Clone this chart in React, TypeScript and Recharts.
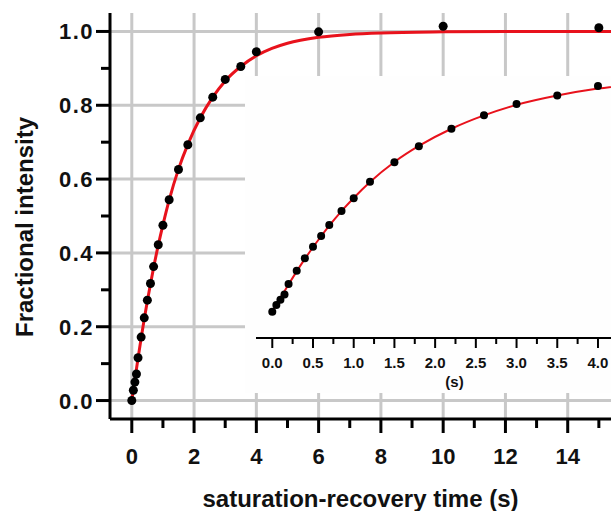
import { ComposedChart, Scatter, Line, XAxis, YAxis, CartesianGrid, Label } from "recharts";

// measured saturation-recovery points (s, fractional intensity)
const times = [0, 0.05, 0.1, 0.15, 0.2, 0.3, 0.4, 0.5, 0.6, 0.7, 0.85, 1.0, 1.2, 1.5, 1.8, 2.2, 2.6, 3.0, 3.5, 4.0, 6, 10, 15];
const intensity = [0, 0.028, 0.05, 0.072, 0.116, 0.172, 0.224, 0.272, 0.317, 0.363, 0.422, 0.475, 0.544, 0.626, 0.693, 0.766, 0.822, 0.87, 0.905, 0.945, 0.999, 1.014, 1.01];

// fitted curve
const fitTimes = [0, 0.1, 0.2, 0.3, 0.4, 0.5, 0.6, 0.7, 0.85, 1.0, 1.2, 1.5, 1.8, 2.2, 2.6, 3.0, 3.5, 4.0, 4.5, 5, 6, 7, 8, 10, 12, 15.5];
const fitValues = [0, 0.058, 0.114, 0.169, 0.221, 0.27, 0.316, 0.36, 0.421, 0.476, 0.543, 0.627, 0.694, 0.766, 0.822, 0.866, 0.905, 0.934, 0.954, 0.968, 0.984, 0.992, 0.996, 0.999, 1.0, 1.0];

const mainXTicks = [0, 1, 2, 3, 4, 5, 6, 7, 8, 9, 10, 11, 12, 13, 14, 15];
const mainYTicks = [0, 0.1, 0.2, 0.3, 0.4, 0.5, 0.6, 0.7, 0.8, 0.9, 1.0];
const gridX = [0, 2, 4, 6, 8, 10, 12, 14];
const gridY = [0, 0.2, 0.4, 0.6, 0.8, 1.0];
const insetTicks = [0, 0.25, 0.5, 0.75, 1, 1.25, 1.5, 1.75, 2, 2.25, 2.5, 2.75, 3, 3.25, 3.5, 3.75, 4];

const FONT = "'Liberation Sans', Arial, sans-serif";
const RED = "#e8121c";

const points = times.map((t, i) => ({ t, v: intensity[i] }));
const fit = fitTimes.map((t, i) => ({ t, v: fitValues[i] }));
const insetPoints = points.filter((p) => p.t <= 4);
const insetFit = fit.filter((p) => p.t <= 4.5);

function MainXTick({ x, y, payload }: any) {
  const major = payload.value % 2 === 0;
  return (
    <g>
      <line x1={x} x2={x} y1={y} y2={y + (major ? 14 : 9)} stroke="#000" strokeWidth={3} />
      {major && (
        <text x={x} y={y + 45} textAnchor="middle" fontSize={22} fontWeight="bold" fontFamily={FONT} fill="#111">
          {payload.value}
        </text>
      )}
    </g>
  );
}

function MainYTick({ x, y, payload }: any) {
  const major = Math.round(payload.value * 10) % 2 === 0;
  return (
    <g>
      <line x1={x - (major ? 14 : 9)} x2={x} y1={y} y2={y} stroke="#000" strokeWidth={3} />
      {major && (
        <text
          x={x - 16}
          y={y + 8}
          textAnchor="end"
          fontSize={22}
          fontWeight="bold"
          fontFamily={FONT}
          letterSpacing={1.5}
          fill="#111"
        >
          {payload.value.toFixed(1)}
        </text>
      )}
    </g>
  );
}

function InsetXTick({ x, y, payload }: any) {
  const major = Math.abs(payload.value * 2 - Math.round(payload.value * 2)) < 1e-6;
  return (
    <g>
      <line x1={x} x2={x} y1={y} y2={y + (major ? 10 : 6)} stroke="#000" strokeWidth={2} />
      {major && (
        <text x={x} y={y + 30} textAnchor="middle" fontSize={15} fontWeight="bold" fontFamily={FONT} fill="#111">
          {payload.value.toFixed(1)}
        </text>
      )}
    </g>
  );
}

const dot = (r: number) => (props: any) => <circle cx={props.cx} cy={props.cy} r={r} fill="#000" />;

export default function App() {
  return (
    <div style={{ position: "absolute", left: 0, top: 0, width: 611, height: 511, background: "#fff", overflow: "hidden" }}>
      <ComposedChart width={611} height={511} margin={{ top: 13, right: 0, bottom: 0, left: 0 }}>
        <CartesianGrid stroke="#c8c8c8" strokeWidth={3} horizontalValues={gridY} verticalValues={gridX} />
        <XAxis
          type="number"
          dataKey="t"
          domain={[-0.7, 15.39]}
          allowDataOverflow
          ticks={mainXTicks}
          interval={0}
          height={92}
          tickSize={0}
          tickMargin={0}
          tickLine={false}
          axisLine={{ stroke: "#000", strokeWidth: 3 }}
          tick={<MainXTick />}
        >
          <Label
            value="saturation-recovery time (s)"
            position="insideBottom"
            offset={4}
            style={{ fontSize: 24, fontWeight: "bold", fontFamily: FONT, fill: "#111" }}
          />
        </XAxis>
        <YAxis
          type="number"
          dataKey="v"
          domain={[-0.05, 1.05]}
          allowDataOverflow
          ticks={mainYTicks}
          interval={0}
          width={110}
          tickSize={0}
          tickMargin={0}
          tickLine={false}
          axisLine={{ stroke: "#000", strokeWidth: 3 }}
          tick={<MainYTick />}
        >
          <Label
            content={() => (
              <text
                x={24}
                y={227}
                transform="rotate(-90 24 227)"
                textAnchor="middle"
                dominantBaseline="central"
                fontSize={24}
                fontWeight="bold"
                fontFamily={FONT}
                fill="#111"
              >
                Fractional intensity
              </text>
            )}
          />
        </YAxis>
        <Scatter data={points} dataKey="v" isAnimationActive={false} shape={dot(4.5)} />
        <Line data={fit} dataKey="v" type="monotone" stroke={RED} strokeWidth={3} dot={false} isAnimationActive={false} />
      </ComposedChart>

      <div style={{ position: "absolute", left: 245, top: 76, width: 366, height: 317, background: "#fefefe" }}>
        <ComposedChart width={366} height={317} margin={{ top: 4, right: 0, bottom: 0, left: 11 }}>
          <XAxis
            type="number"
            dataKey="t"
            domain={[-0.2, 4.16]}
            allowDataOverflow
            ticks={insetTicks}
            interval={0}
            height={55}
            tickSize={0}
            tickMargin={0}
            tickLine={false}
            axisLine={{ stroke: "#000", strokeWidth: 2 }}
            tick={<InsetXTick />}
          >
            <Label
              content={(props: any) => {
                const vb = props.viewBox;
                return (
                  <text
                    x={vb.x + vb.width / 2 + 21}
                    y={vb.y + vb.height - 6}
                    textAnchor="middle"
                    fontSize={15}
                    fontWeight="bold"
                    fontFamily={FONT}
                    fill="#111"
                  >
                    (s)
                  </text>
                );
              }}
            />
          </XAxis>
          <YAxis type="number" dataKey="v" domain={[-0.11, 0.97]} allowDataOverflow hide />
          <Scatter data={insetPoints} dataKey="v" isAnimationActive={false} shape={dot(4)} />
          <Line data={insetFit} dataKey="v" type="monotone" stroke={RED} strokeWidth={2} dot={false} isAnimationActive={false} />
        </ComposedChart>
      </div>
    </div>
  );
}
